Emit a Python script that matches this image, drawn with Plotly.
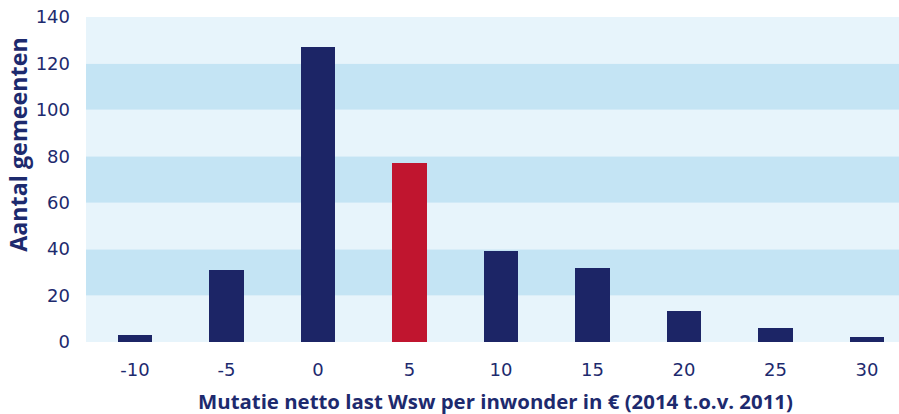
import plotly.graph_objects as go

categories = [-10, -5, 0, 5, 10, 15, 20, 25, 30]
values = [3, 31, 127, 77, 39, 32, 13.5, 6, 2]
highlight = 5
y_ticks = [0, 20, 40, 60, 80, 100, 120, 140]

navy = "#1c2566"
red = "#c0152f"
light = "#e7f4fb"
dark = "#c4e4f4"
textc = "#1d2a6e"

colors = [red if c == highlight else navy for c in categories]

fig = go.Figure()
fig.add_trace(go.Bar(x=categories, y=values, marker=dict(color=colors, line=dict(width=0)),
                     width=1.9, hoverinfo="skip"))

shapes = []
for i in range(len(y_ticks) - 1):
    shapes.append(dict(type="rect", xref="paper", yref="y", x0=0, x1=1,
                       y0=y_ticks[i], y1=y_ticks[i + 1],
                       fillcolor=light if i % 2 == 0 else dark,
                       line=dict(width=0), layer="below"))

tick_font = "DejaVu Sans, Liberation Sans, sans-serif"
title_font = "Open Sans, DejaVu Sans, sans-serif"
fig.update_layout(
    width=899, height=414,
    margin=dict(l=86, r=0, t=17, b=72, autoexpand=False),
    paper_bgcolor="white", plot_bgcolor="white",
    shapes=shapes,
    showlegend=False,
    bargap=0,
    font=dict(family=tick_font, color=textc, size=18),
    xaxis=dict(range=[-12.68, 31.75], tickvals=categories,
               ticktext=[str(c) for c in categories],
               showgrid=False, zeroline=False, showline=False, ticks="",
               tickfont=dict(size=18, color=textc), ticklabelstandoff=15,
               ticklabeloverflow="allow"),
    yaxis=dict(range=[0, 140], tickvals=y_ticks, showgrid=False, zeroline=False,
               showline=False, ticks="", tickfont=dict(size=18, color=textc),
               ticklabelstandoff=15, ticklabeloverflow="allow"),
    annotations=[
        dict(text="<b>Aantal gemeenten</b>", xref="paper", yref="paper",
             x=-0.0835, y=0.607, xanchor="center", yanchor="middle", textangle=-90,
             showarrow=False, font=dict(size=23.3, color=textc, family=title_font)),
        dict(text="<b>Mutatie netto last Wsw per inwonder in € (2014 t.o.v. 2011)</b>",
             xref="paper", yref="paper", x=0.504, y=-0.1815, xanchor="center",
             yanchor="middle", showarrow=False,
             font=dict(size=20.4, color=textc, family=title_font)),
    ],
)

fig.write_html(
    "out.html",
    config={"displayModeBar": False},
    post_script="document.body.style.margin='0';document.body.style.overflow='hidden';",
)
